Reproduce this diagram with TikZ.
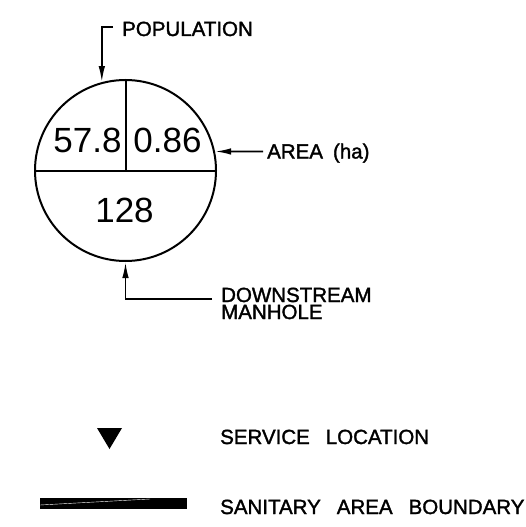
\documentclass[tikz,border=0pt]{standalone}
\usepackage{fontspec}
\setmainfont{Liberation Sans}
\newfontfamily\lblfont{Liberation Sans}[BoldFont={Liberation Sans},BoldFeatures={FakeBold=1.6}]
\usetikzlibrary{arrows.meta,positioning}

\tikzset{
  lbl/.style={anchor=base west,inner sep=0pt,font=\lblfont\bfseries\fontsize{20.5}{17}\selectfont},
  num/.style={inner sep=0pt,font=\fontsize{35}{38}\selectfont},
  lead/.style={line width=1.8pt,-{Latex[length=16pt,width=6.5pt]}}
}

\begin{document}
\begin{tikzpicture}[x=1pt,y=-1pt]
    \useasboundingbox (0,0) rectangle (526,527);
    % manhole symbol
    \node[circle,draw,line width=2pt,minimum size=181pt,inner sep=0pt] (mh) at (125.5,170.5) {};
    \draw[line width=2pt] (mh.west) -- (mh.east);
    \draw[line width=2pt] (mh.north) -- (mh.center);
    \node[num] (pop) at (87.5,140) {57.8};
    \node[num] (area) at (167.5,140) {0.86};
    \node[num] (dsmh) at (124.5,210.5) {128};
    % labels
    \node[lbl] (popl) at (122,36) {POPULATION};
    \node[lbl] (areal) at (267,158.5) {AREA\hspace{10pt}(ha)};
    \node[lbl,anchor=north west,align=left] (dsl) at (221,287.5) {DOWNSTREAM\\MANHOLE};
    \draw[lead] ([xshift=-9pt,yshift=2pt]popl.west) -| (mh.105);
    \draw[lead] ([xshift=-4pt,yshift=7pt]areal.base west) -- (mh.12);
    \draw[lead] ([xshift=-9pt,yshift=-11.5pt]dsl.north west) -| (mh.south);
    % legend
    \fill (97,428) -- (122,428) -- (109.5,449) -- cycle;
    \node[lbl] (svc) at (220,444) {SERVICE\hspace{16pt}LOCATION};
    \fill (40,498) rectangle (187,509);
    \draw[white,line width=0.4pt] (40,505) -- (150,499);
    \node[lbl] (bnd) at (220,514) {SANITARY\hspace{16pt}AREA\hspace{16pt}BOUNDARY};
\end{tikzpicture}
\end{document}
